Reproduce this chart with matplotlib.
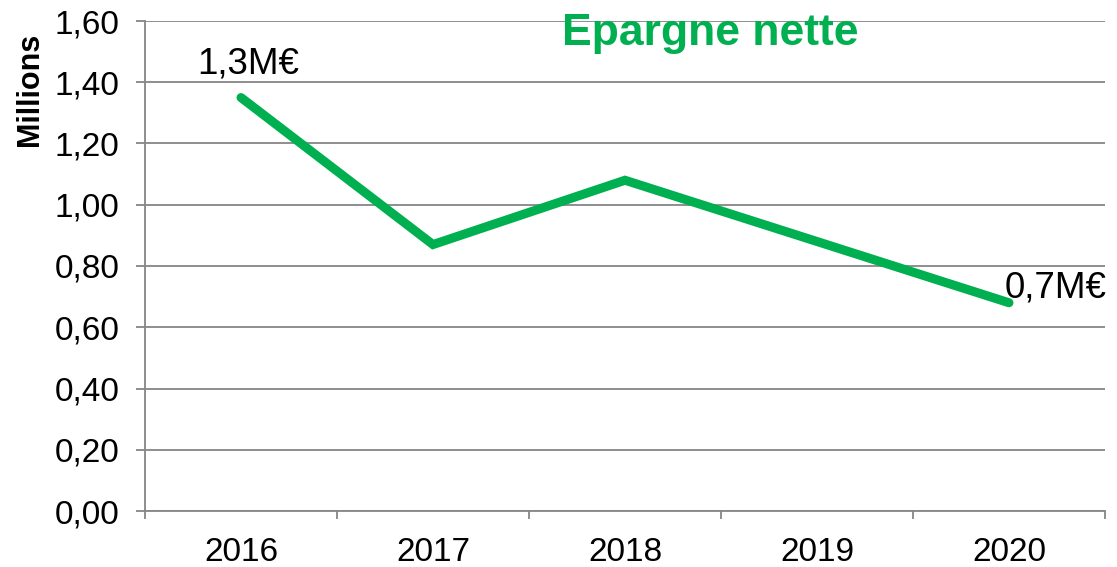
import matplotlib.pyplot as plt
from matplotlib.ticker import FuncFormatter

plt.rcParams['font.family'] = ['Liberation Sans', 'DejaVu Sans']

years = ['2016', '2017', '2018', '2019', '2020']
epargne = [1.35, 0.87, 1.08, 0.88, 0.68]
first_label = '1,3M€'
last_label = '0,7M€'

green = '#00B050'
grey = '#868686'

fig = plt.figure(figsize=(11.17, 5.67), dpi=100)
ax = fig.add_axes([145 / 1117, 56 / 567, 960 / 1117, 490 / 567])

x = list(range(len(years)))
ax.plot(x, epargne, color=green, linewidth=6.5, solid_capstyle='round', solid_joinstyle='miter', zorder=3)

ax.set_xlim(-0.5, len(years) - 0.5)
ax.set_ylim(0, 1.6)
ax.set_yticks([i * 0.2 for i in range(9)])
ax.yaxis.set_major_formatter(FuncFormatter(lambda v, p: f'{v:.2f}'.replace('.', ',')))
ax.grid(axis='y', color=grey, linewidth=1.3)
ax.set_axisbelow(True)

# year labels centred, tick marks on category boundaries
ax.set_xticks([i - 0.5 for i in range(len(years) + 1)])
ax.set_xticklabels([])
ax.set_xticks(x, minor=True)
ax.set_xticklabels(years, minor=True)
ax.tick_params(axis='x', which='minor', length=0, pad=19, labelsize=24)
ax.tick_params(axis='x', which='major', length=6, width=1.3, color=grey, direction='out')
ax.tick_params(axis='y', length=6.5, width=1.3, color=grey, pad=12, labelsize=24)

for s in ['top', 'right']:
    ax.spines[s].set_visible(False)
for s in ['left', 'bottom']:
    ax.spines[s].set_color(grey)
    ax.spines[s].set_linewidth(1.3)

ax.annotate(first_label, (x[0], epargne[0]), xytext=(5, 17), textcoords='offset points',
            ha='center', va='baseline', fontsize=26.5, annotation_clip=False)
ax.annotate(last_label, (x[-1], epargne[-1]), xytext=(-3, 4), textcoords='offset points',
            ha='left', va='baseline', fontsize=26.5, annotation_clip=False)

fig.text(710 / 1117, 1 - 45 / 567, 'Epargne nette', ha='center', va='baseline',
         fontsize=32, fontweight='bold', color=green)
fig.text(30 / 1117, 1 - 89 / 567, 'Millions', ha='center', va='center', rotation=90,
         fontsize=22, fontweight='bold')

fig.savefig('out.png', dpi=100)
